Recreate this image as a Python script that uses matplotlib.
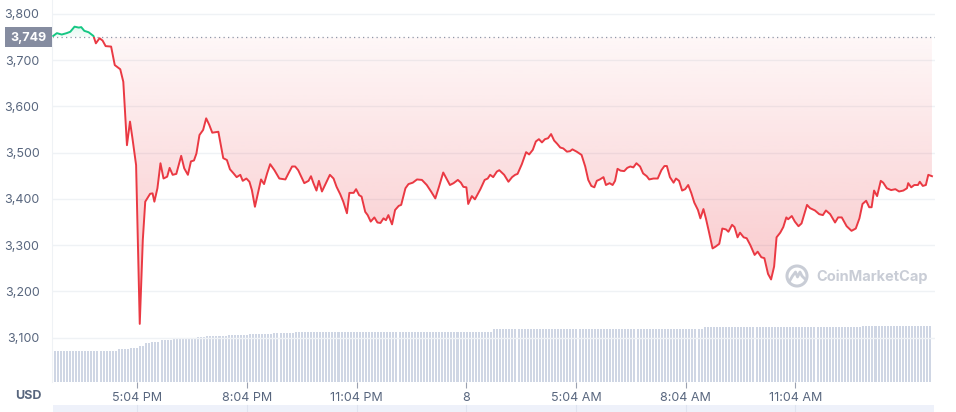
import matplotlib.pyplot as plt
import numpy as np
from matplotlib.patches import Rectangle, Polygon, Circle
from matplotlib.colors import to_rgb
from matplotlib.transforms import blended_transform_factory

plt.rcParams['font.family'] = ['Inter', 'DejaVu Sans']

# price, minutes after 14:46
minutes = [0, 6, 14, 22, 28, 35, 42, 46, 51, 58, 66, 70, 76, 81, 86, 95, 101, 110, 115, 121,
           126, 130, 136, 142, 147, 151, 159, 163, 166, 171, 176, 181, 187, 191, 196, 202, 210, 215, 221, 226,
           231, 235, 240, 246, 251, 256, 261, 271, 279, 285, 290, 296, 301, 307, 311, 317, 322, 326, 331, 337,
           341, 346, 351, 356, 363, 371, 381, 386, 392, 397, 402, 412, 419, 423, 427, 432, 436, 441, 446, 454,
           460, 465, 471, 476, 482, 486, 493, 497, 502, 506, 512, 516, 521, 527, 532, 537, 542, 546, 550, 556,
           561, 567, 571, 578, 583, 590, 597, 605, 613, 620, 627, 633, 640, 646, 651, 657, 664, 669, 673, 678,
           681, 687, 692, 701, 708, 713, 717, 722, 728, 732, 740, 747, 753, 758, 762, 769, 776, 781, 787, 792,
           797, 802, 807, 812, 817, 822, 827, 832, 837, 843, 848, 852, 859, 867, 873, 878, 883, 888, 892, 897,
           903, 907, 913, 918, 922, 926, 931, 937, 942, 947, 952, 957, 963, 968, 974, 978, 985, 992, 998, 1003,
           1007, 1012, 1018, 1022, 1027, 1032, 1037, 1042, 1047, 1052, 1058, 1062, 1067, 1071, 1076, 1082, 1087, 1093, 1098, 1104,
           1108, 1114, 1118, 1123, 1127, 1133, 1138, 1144, 1151, 1156, 1162, 1167, 1173, 1178, 1183, 1187, 1193, 1198, 1203, 1206,
           1212, 1217, 1223, 1228, 1237, 1242, 1250, 1257, 1263, 1268, 1275, 1283, 1288, 1294, 1302, 1310, 1317, 1323, 1328, 1334,
           1339, 1343, 1347, 1352, 1358, 1362, 1368, 1375, 1382, 1388, 1395, 1401, 1403, 1408, 1413, 1419, 1422, 1427, 1432, 1436,
           1442]
prices = [3752, 3758, 3755, 3758, 3761, 3772, 3770, 3771, 3763, 3760, 3752, 3736, 3747, 3742, 3730, 3729, 3689, 3680, 3653, 3516,
          3567, 3531, 3473, 3130, 3311, 3394, 3411, 3412, 3394, 3423, 3477, 3444, 3448, 3467, 3452, 3454, 3493, 3466, 3452, 3481,
          3483, 3498, 3538, 3549, 3574, 3560, 3543, 3545, 3488, 3484, 3464, 3455, 3447, 3452, 3439, 3444, 3437, 3419, 3383, 3419,
          3442, 3432, 3455, 3475, 3462, 3444, 3442, 3455, 3470, 3470, 3462, 3434, 3439, 3449, 3434, 3418, 3439, 3416, 3430, 3452,
          3444, 3426, 3410, 3394, 3369, 3413, 3413, 3421, 3408, 3405, 3372, 3365, 3351, 3360, 3349, 3348, 3358, 3354, 3365, 3345,
          3376, 3385, 3387, 3423, 3432, 3435, 3442, 3441, 3430, 3416, 3401, 3426, 3457, 3442, 3430, 3434, 3441, 3435, 3426, 3425,
          3389, 3406, 3399, 3421, 3441, 3444, 3452, 3447, 3459, 3462, 3452, 3437, 3447, 3452, 3454, 3475, 3501, 3496, 3506, 3524,
          3529, 3522, 3529, 3531, 3540, 3526, 3519, 3511, 3509, 3502, 3503, 3507, 3502, 3495, 3470, 3441, 3428, 3425, 3439, 3442,
          3447, 3430, 3434, 3430, 3439, 3465, 3461, 3460, 3467, 3470, 3468, 3477, 3470, 3455, 3449, 3442, 3444, 3444, 3462, 3471,
          3471, 3447, 3435, 3444, 3439, 3418, 3421, 3430, 3413, 3392, 3376, 3358, 3378, 3358, 3329, 3293, 3297, 3303, 3336, 3334,
          3329, 3344, 3339, 3317, 3327, 3317, 3315, 3300, 3279, 3286, 3274, 3272, 3238, 3226, 3254, 3317, 3327, 3339, 3360, 3356,
          3363, 3351, 3341, 3347, 3387, 3380, 3375, 3367, 3365, 3375, 3367, 3349, 3360, 3360, 3341, 3331, 3336, 3358, 3389, 3396,
          3382, 3382, 3418, 3406, 3439, 3435, 3423, 3419, 3421, 3416, 3418, 3423, 3434, 3425, 3430, 3430, 3437, 3428, 3430, 3452,
          3449]
base_price = 3749

# 5-minute volume bars (billions), stored as level / number of bars
vol_levels = [12.4, 13.2, 13.8, 14.6, 15.6, 16.0, 16.8, 17.5, 18.0, 18.4, 18.8, 19.2, 19.7, 20.0, 20.2, 21.2, 22.0, 22.6]
vol_counts = [21, 4, 3, 2, 2, 3, 4, 8, 3, 7, 7, 8, 7, 29, 36, 69, 52, 23]

tick_pos = [138, 318, 498, 678, 858, 1038, 1218]
tick_labels = ['5:04 PM', '8:04 PM', '11:04 PM', '8', '5:04 AM', '8:04 AM', '11:04 AM']
y_ticks = [3100, 3200, 3300, 3400, 3500, 3600, 3700, 3800]

RED = '#ea3943'
GREEN = '#16c784'
GREY = '#58667e'
GRID = '#eff2f5'

W, H = 956, 412
fig = plt.figure(figsize=(W / 100, H / 100), dpi=100)
rect = [52 / W, 30 / H, 883 / W, 382 / H]
xlim = (-2, 1447)

# volume underneath
vax = fig.add_axes(rect, zorder=0)
vol = np.repeat(vol_levels, vol_counts)
bar_x = np.arange(len(vol)) * (minutes[-1] / len(vol)) + 2.5
vax.bar(bar_x, vol, width=3.3, color='#cfd6e4', linewidth=0)
vax.set_xlim(*xlim)
vax.set_ylim(0, 152.8)
vax.axis('off')

ax = fig.add_axes(rect, zorder=1)
ax.patch.set_visible(False)
t = np.array(minutes, dtype=float)
p = np.array(prices, dtype=float)

# gradient fills between price and the opening price
def grad_fill(lo, hi, color, a_lo, a_hi, ybound):
    verts = np.column_stack([np.r_[t, t[::-1]], np.r_[lo, hi[::-1]]])
    poly = Polygon(verts, closed=True, facecolor='none', edgecolor='none')
    ax.add_patch(poly)
    g = np.zeros((256, 1, 4))
    g[..., :3] = to_rgb(color)
    g[..., 3] = np.linspace(a_lo, a_hi, 256)[:, None]
    im = ax.imshow(g, extent=[t[0], t[-1], ybound[0], ybound[1]], origin='lower',
                   aspect='auto', zorder=1, interpolation='bilinear')
    im.set_clip_path(poly)

base = np.full(len(t), base_price, dtype=float)
grad_fill(np.minimum(p, base_price), base, RED, 0.31, 0.04, (p.min(), base_price))
grad_fill(base, np.maximum(p, base_price), GREEN, 0.04, 0.12, (base_price, p.max()))

red_line, = ax.plot(t, p, color=RED, lw=1.4, zorder=3, solid_joinstyle='round')
red_line.set_clip_path(Rectangle((-10, 2900), 1500, base_price - 2900, transform=ax.transData))
green_line, = ax.plot(t, p, color=GREEN, lw=1.4, zorder=3, solid_joinstyle='round')
green_line.set_clip_path(Rectangle((-10, base_price), 1500, 300, transform=ax.transData))

ax.axhline(base_price, color='#8f97a8', lw=0.9, ls=(0, (1, 2.6)), zorder=2)

ax.set_xlim(*xlim)
ax.set_ylim(3004.5, 3829.6)
ax.set_yticks(y_ticks, [f'{v:,}' for v in y_ticks])
ax.set_xticks(tick_pos, tick_labels)
ax.tick_params(axis='y', length=0, pad=9, labelsize=9, labelcolor=GREY)
ax.tick_params(axis='x', length=4, width=0.8, color='#9aa1b0', pad=3, labelsize=9, labelcolor=GREY)
ax.grid(axis='y', color=GRID, lw=1, zorder=0)
ax.set_axisbelow(True)
for s in ['top', 'right', 'bottom']:
    ax.spines[s].set_visible(False)
ax.spines['left'].set_color(GRID)

# overlay in pixel units for the decorations
ov = fig.add_axes([0, 0, 1, 1], zorder=5)
ov.set_xlim(0, W)
ov.set_ylim(H, 0)
ov.axis('off')

ov.add_patch(Rectangle((5, 27), 47, 20, facecolor='#858ca0', edgecolor='none'))
ov.text(28.5, 37.5, f'{base_price:,}', color='white', fontsize=9, fontweight='bold',
        ha='center', va='center')
ov.text(28, 396, 'USD', color=GREY, fontsize=9, fontweight='bold', ha='center', va='center')

wm = '#c9cdd6'
ov.add_patch(Circle((797, 276), 10, facecolor='none', edgecolor=wm, lw=2.2))
ov.plot([789, 792.5, 795.5, 797.5, 800, 802, 805], [282, 276, 272, 277, 272, 276, 279],
        color=wm, lw=2, solid_capstyle='round', solid_joinstyle='round')
ov.text(816, 277, 'CoinMarketCap', color=wm, fontsize=10.5, fontweight='bold',
        ha='left', va='center')

# scroll strip under the axis
strip_tr = blended_transform_factory(ax.transData, ov.transData)
ov.add_patch(Rectangle((0, 405), minutes[-1] + 4, 8, transform=strip_tr,
                       facecolor='#eef1fa', edgecolor='none'))
for x in tick_pos:
    ov.plot([x, x], [405, 412], transform=strip_tr, color='#dfe4f0', lw=0.8)

fig.savefig('out.png', dpi=100)
